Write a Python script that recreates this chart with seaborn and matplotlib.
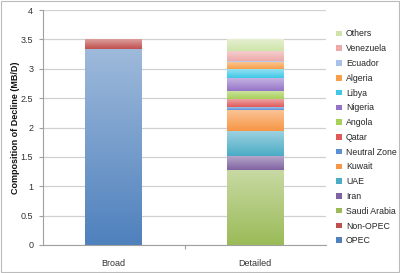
import numpy as np
import pandas as pd
import matplotlib
matplotlib.use("Agg")
import matplotlib.pyplot as plt
import matplotlib.colors as mcolors
from matplotlib.patches import Patch, Rectangle
import seaborn as sns

categories = ["Broad", "Detailed"]
series = ["OPEC", "Non-OPEC", "Saudi Arabia", "Iran", "UAE", "Kuwait",
          "Neutral Zone", "Qatar", "Angola", "Nigeria", "Libya", "Algeria",
          "Ecuador", "Venezuela", "Others"]
broad_values = [3.34, 0.16, 0, 0, 0, 0, 0, 0, 0, 0, 0, 0, 0, 0, 0]
detailed_values = [0, 0, 1.28, 0.24, 0.42, 0.36, 0.05, 0.13, 0.15, 0.22,
                   0.14, 0.12, 0.02, 0.18, 0.20]
colors = ["#4F81BD", "#C0504D", "#9BBB59", "#8064A2", "#4BACC6", "#F79646",
          "#5B8FD6", "#E05A5A", "#A8D05A", "#9574C8", "#3FC8E8", "#F7A04A",
          "#A9C2EC", "#EDAAAA", "#CFE4AA"]
yticks = [0, 0.5, 1, 1.5, 2, 2.5, 3, 3.5, 4]
ylabel = "Composition of Decline (MB/D)"

sns.set_theme(style="white")
plt.rcParams["font.family"] = ["Liberation Sans", "DejaVu Sans"]

rows = []
for cat, vals in zip(categories, [broad_values, detailed_values]):
    for s, v in zip(series, vals):
        rows.append({"cat": cat, "series": s, "value": v})
df = pd.DataFrame(rows)
palette = dict(zip(series, colors))

fig = plt.figure(figsize=(4.0, 2.73), dpi=100)
ax = fig.add_axes([0.1075, 0.1026, 0.7075, 0.8604])

sns.histplot(data=df, x="cat", hue="series", weights="value",
             multiple="stack", discrete=True, shrink=0.4,
             hue_order=series[::-1], palette=palette, alpha=1,
             linewidth=0, legend=False, ax=ax)

# Excel-style vertical gradients in each segment
for p in list(ax.patches):
    if p.get_height() <= 0:
        continue
    base = np.array(mcolors.to_rgb(p.get_facecolor()))
    light = base + (1 - base) * 0.45
    t = np.linspace(0, 1, 64)[:, None]
    grad = light[None, :] * (1 - t) + base[None, :] * t
    img = np.repeat(grad[:, None, :], 2, axis=1)
    x0, y0 = p.get_x(), p.get_y()
    im = ax.imshow(img, extent=[x0, x0 + p.get_width(), y0, y0 + p.get_height()],
                   aspect="auto", origin="upper", zorder=p.get_zorder() + 0.1,
                   interpolation="bilinear")
    im.set_clip_path(p)

ax.set_xlim(-0.5, 1.5)
ax.set_ylim(0, 4)
ax.set_yticks(yticks)
ax.set_yticklabels([f"{v:g}" for v in yticks], fontsize=6.5, color="#333333")
ax.set_xticks([0, 1])
ax.set_xticks([0.5], minor=True)
ax.set_xticklabels(categories, fontsize=6.5, color="#333333")
ax.set_xlabel("")
ax.set_ylabel(ylabel, fontsize=6.5, color="#111111", fontweight="bold", labelpad=2)
ax.yaxis.set_label_coords(-0.08, 0.5)
ax.yaxis.grid(True, color="#D0D0D0", linewidth=0.9)
ax.set_axisbelow(True)
for s in ["top", "right"]:
    ax.spines[s].set_visible(False)
ax.spines["left"].set_color("#A0A0A0")
ax.spines["bottom"].set_color("#A0A0A0")
ax.spines["left"].set_linewidth(0.8)
ax.spines["bottom"].set_linewidth(0.8)
ax.tick_params(axis="y", length=3, width=0.8, color="#A0A0A0", pad=4, left=True)
ax.tick_params(axis="x", which="major", length=0, pad=10)
ax.tick_params(axis="x", which="minor", length=3, width=0.8, color="#A0A0A0",
               bottom=True, direction="out")

handles = [Patch(facecolor=c, edgecolor="none", label=s)
           for s, c in zip(series, colors)][::-1]
fig.legend(handles=handles, loc="upper left", bbox_to_anchor=(0.83, 0.908),
           frameon=False, fontsize=6.3, handlelength=0.6, handleheight=0.6,
           handletextpad=0.5, labelspacing=0.66, borderpad=0)

fig.patches.append(Rectangle((0.002, 0.003), 0.996, 0.994, transform=fig.transFigure,
                             fill=False, edgecolor="#BBBBBB", linewidth=0.8))

fig.savefig("out.png", dpi=100)
